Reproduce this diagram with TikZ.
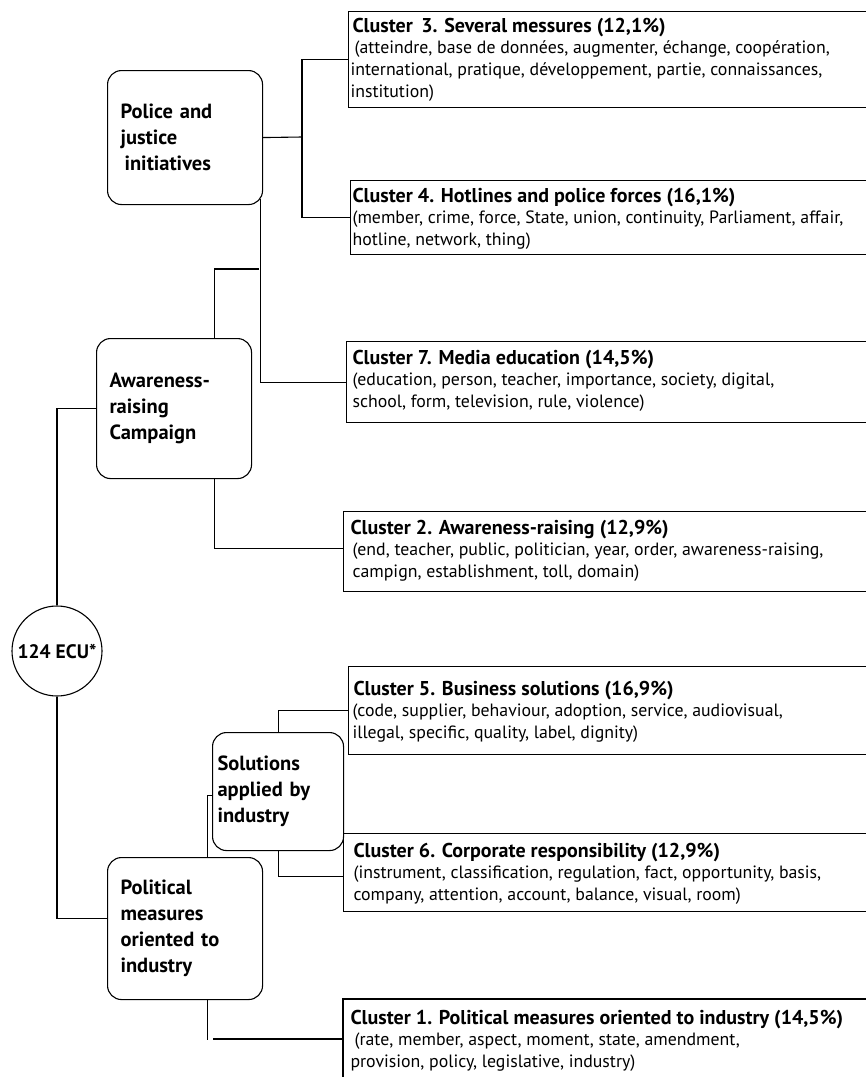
\documentclass[tikz,border=0pt]{standalone}
\usepackage{fontspec}
\setmainfont{PT Sans}
\begin{document}
\begin{tikzpicture}[x=1pt,y=-1pt,line width=1.1pt,
  cbox/.style={draw,rectangle,anchor=north west,minimum width=540pt,inner sep=0pt},
  rbox/.style={draw,rectangle,rounded corners=14pt,anchor=north west,inner sep=0pt,
     align=left,font=\fontsize{20.5}{26}\selectfont\bfseries},
  ttl/.style={anchor=base west,inner sep=0pt,font=\fontsize{20}{22}\selectfont\bfseries},
  bdy/.style={anchor=base west,inner sep=0pt,align=left,font=\fontsize{17.8}{22}\selectfont}]
\useasboundingbox (0,0) rectangle (866,1077);
% cluster boxes
\node[cbox,minimum height=96pt] (c3) at (348,11) {};
\node[cbox,minimum height=74pt] (c4) at (350,180) {};
\node[cbox,minimum height=81pt] (c7) at (346,341) {};
\node[cbox,minimum height=80pt] (c2) at (343,511) {};
\node[cbox,minimum height=88pt] (c5) at (348,666) {};
\node[cbox,minimum height=78pt] (c6) at (343,833) {};
\node[cbox,draw=none,minimum height=100pt] (c1) at (343,999) {};
\draw (c1.south west) -- (c1.north west) -- (c1.north east);
% cluster texts (body nodes anchored at baseline of their last line)
\node[ttl] (c3t) at (352,32) {Cluster\, 3. Several messures (12,1\%)};
\node[bdy] (c3b) at (350,97) {\hspace{4pt}(atteindre, base de données, augmenter, échange, coopération,\\international, pratique, développement, partie, connaissances,\\institution)};
\node[ttl] (c4t) at (352,202) {Cluster 4. Hotlines and police forces (16,1\%)};
\node[bdy] (c4b) at (352,245) {(member, crime, force, State, union, continuity, Parliament, affair,\\hotline, network, thing)};
\node[ttl] (c7t) at (352,364) {Cluster 7. Media education (14,5\%)};
\node[bdy] (c7b) at (352,407) {(education, person, teacher, importance, society, digital,\\school, form, television, rule, violence)};
\node[ttl] (c2t) at (350,534) {Cluster 2. Awareness-raising (12,9\%)};
\node[bdy] (c2b) at (352,577) {(end, teacher, public, politician, year, order, awareness-raising,\\campign, establishment, toll, domain)};
\node[ttl] (c5t) at (353,695) {Cluster 5. Business solutions (16,9\%)};
\node[bdy] (c5b) at (352,738) {(code, supplier, behaviour, adoption, service, audiovisual,\\illegal, specific, quality, label, dignity)};
\node[ttl] (c6t) at (353,857) {Cluster 6. Corporate responsibility (12,9\%)};
\node[bdy] (c6b) at (353,900) {(instrument, classification, regulation, fact, opportunity, basis,\\company, attention, account, balance, visual, room)};
\node[ttl] (c1t) at (350,1024) {Cluster 1. Political measures oriented to industry (14,5\%)};
\node[bdy] (c1b) at (350,1067) {\hspace{4pt}(rate, member, aspect, moment, state, amendment,\\provision, policy, legislative, industry)};
% rounded boxes
\node[rbox,minimum width=155pt,minimum height=134pt,text width=129pt,inner xsep=13pt] (police) at (107,70) {Police and\\justice\\\hspace{4pt}initiatives};
\node[rbox,minimum width=155pt,minimum height=140pt,text width=129pt,inner xsep=13pt] (aware) at (96,338) {Awareness-\\raising\\Campaign};
\node[rbox,minimum width=131pt,minimum height=118pt,text width=121pt,inner xsep=5pt] (sol) at (212,732) {Solutions\\applied by\\industry};
\node[rbox,minimum width=155pt,minimum height=142pt,text width=129pt,inner xsep=13pt] (pol) at (107,857) {Political\\measures\\oriented to\\industry};
\node[draw,circle,minimum size=90pt,inner sep=0pt,font=\fontsize{19.5}{22}\selectfont\bfseries] (ecu) at (57,651) {124 ECU*};
% connectors
\coordinate (j1) at (302,137);
\draw (police.east) -- (j1);
\draw (c3.west) -| (j1) |- (c4.west);
\draw ([xshift=-3pt,yshift=6pt]police.south east) |- (c7.west);
\coordinate (j3) at (259,269);
\draw (j3) -| ([xshift=40.5pt]aware.north);
\draw ([xshift=40.5pt]aware.south) |- ([yshift=3pt]c2.west);
\draw (aware.west) -| (ecu.north);
\draw (ecu.south) |- ([yshift=10pt]pol.west);
\draw ([xshift=22.5pt]pol.north) |- ([yshift=-4pt]sol.west);
\draw (sol.north) |- (c5.west);
\draw (sol.south) |- ([yshift=-4pt]c6.west);
\coordinate (j4) at (213,1039);
\draw ([xshift=22.5pt]pol.south) -- ++(0,40);
\draw (j4) -- ([yshift=-40pt]c1.north west);
\end{tikzpicture}
\end{document}
